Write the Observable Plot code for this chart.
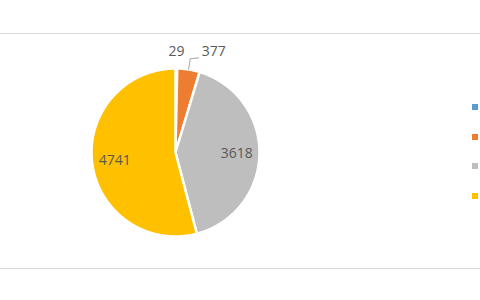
<!DOCTYPE html>
<html>
<head>
<meta charset="utf-8">
<script src="https://cdn.jsdelivr.net/npm/d3@7"></script>
<script src="https://cdn.jsdelivr.net/npm/@observablehq/plot@0.6"></script>
<style>
  html, body { margin: 0; padding: 0; background: #fff; width: 480px; height: 300px; overflow: hidden; position: relative; }
  #box { position: absolute; left: 0; top: 33px; width: 480px; height: 234px; border-top: 1px solid #d9d9d9; border-bottom: 1px solid #d9d9d9; }
  #chart { position: absolute; left: 0; top: 0; }
  #legend { position: absolute; left: 472px; top: 104px; }
  #legend .item { height: 29.7px; }
  #legend .sw { width: 6px; height: 6px; }
</style>
</head>
<body>
<div id="box"></div>
<div id="chart"></div>
<div id="legend"></div>
<script>
const categories = ["1", "2", "3", "4"];
const values = [29, 377, 3618, 4741];
const colors = ["#5b9bd5", "#ed7d31", "#bebebe", "#ffc000"];
const labelPlacement = ["outside", "leader", "inside", "inside"];

const total = d3.sum(values);
const rad = Math.PI / 180;
let acc = 0;
const slices = values.map((v, i) => {
  const a0 = acc / total * 360;
  acc += v;
  const a1 = acc / total * 360;
  return {cat: categories[i], value: v, a0, a1, mid: (a0 + a1) / 2, place: labelPlacement[i]};
});

// polygon points for each slice (angle clockwise from 12 o'clock)
const pts = [];
for (const s of slices) {
  pts.push({cat: s.cat, x: 0, y: 0});
  const n = Math.max(2, Math.ceil(s.a1 - s.a0) * 2);
  for (let k = 0; k <= n; k++) {
    const a = (s.a0 + (s.a1 - s.a0) * k / n) * rad;
    pts.push({cat: s.cat, x: Math.sin(a), y: Math.cos(a)});
  }
  pts.push({cat: s.cat, x: 0, y: 0});
}

const polar = (a, r) => ({x: r * Math.sin(a * rad), y: r * Math.cos(a * rad)});

const inside = slices.filter(s => s.place === "inside").map(s => ({...polar(s.mid, 0.73), label: String(s.value)}));
const outside = slices.filter(s => s.place === "outside").map(s => ({...polar(s.mid, 1.2), label: String(s.value)}));

const leaderSlices = slices.filter(s => s.place === "leader");
const leaderPts = [];
const leaderLabels = [];
for (const s of leaderSlices) {
  const p0 = polar(s.mid, 1.0);
  const p1 = polar(s.mid, 1.13);
  const p2 = {x: p1.x + 0.1, y: p1.y + 0.01};
  leaderPts.push({...p0, cat: s.cat}, {...p1, cat: s.cat}, {...p2, cat: s.cat});
  leaderLabels.push({...p2, label: String(s.value)});
}

const font = "Open Sans, sans-serif";
const plot = Plot.plot({
  width: 480,
  height: 300,
  margin: 0,
  x: {domain: [-1, 1], range: [91, 259], axis: null},
  y: {domain: [-1, 1], range: [236, 68], axis: null},
  color: {domain: categories, range: colors},
  style: {background: "transparent", fontFamily: font},
  marks: [
    Plot.line(pts, {x: "x", y: "y", z: "cat", fill: "cat", stroke: "white", strokeWidth: 2.5, strokeLinejoin: "round"}),
    Plot.line(leaderPts, {x: "x", y: "y", z: "cat", stroke: "#a6a6a6", strokeWidth: 1}),
    Plot.text(inside, {x: "x", y: "y", text: "label", fill: "#595959", fontSize: 14}),
    Plot.text(outside, {x: "x", y: "y", text: "label", fill: "#595959", fontSize: 14}),
    Plot.text(leaderLabels, {x: "x", y: "y", text: "label", fill: "#595959", fontSize: 14, textAnchor: "start", dx: 3, dy: -6})
  ]
});
document.getElementById("chart").appendChild(plot);

const legend = d3.select("#legend");
categories.forEach((c, i) => {
  const it = legend.append("div").attr("class", "item").attr("title", c);
  it.append("div").attr("class", "sw").style("background", colors[i]);
});
</script>
</body>
</html>
